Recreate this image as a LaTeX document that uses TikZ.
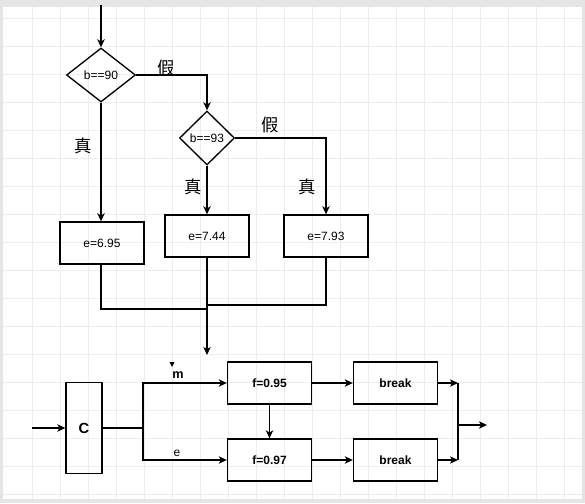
\documentclass[tikz,border=0pt]{standalone}
\usepackage{fontspec}
\setmainfont{Liberation Sans}
\newfontfamily\cjk{Noto Sans CJK SC}
\usetikzlibrary{shapes.geometric, arrows.meta, positioning}

\begin{document}
\begin{tikzpicture}[x=0.75pt, y=-0.75pt, line width=1pt,
	font=\fontsize{9}{11}\selectfont,
	box/.style = {draw, rectangle, minimum width=63pt, minimum height=31.5pt, inner sep=0pt},
	cond/.style = {draw, diamond, minimum height=40.5pt, inner sep=0pt},
	lab/.style = {font=\fontsize{13}{15}\selectfont\cjk},
	arr/.style = {-{Stealth[length=6pt, width=5.5pt, inset=1.6pt]}}]
	\useasboundingbox (0,0) rectangle (585,503);
	% canvas and grid
	\fill[black!10] (0,0) rectangle (585,503);
	\fill[white] (3,7) rectangle (582,499);
	\foreach \gx in {32,60,...,564} \draw[black!7, line width=0.5pt] (\gx,7) -- (\gx,499);
	\foreach \gy in {18,46,...,494} \draw[black!7, line width=0.5pt] (3,\gy) -- (582,\gy);

	% upper part
	\coordinate (top) at (101,5);
	\node[cond, minimum width=51.75pt] (d1) at (101,75) {b==90};
	\node[cond, minimum width=41.25pt] (d2) at (207,138) {b==93};
	\node[box] (e1) at (102,243) {e=6.95};
	\node[box] (e2) at (207,236) {e=7.44};
	\node[box] (e3) at (326,236) {e=7.93};
	\node[lab] (f1lab) at (166,68) {假};
	\node[lab] (f2lab) at (270,125) {假};
	\node[lab] (t1lab) at (83,146) {真};
	\node[lab] (t2lab) at (193,187) {真};
	\node[lab] (t3lab) at (307,187) {真};
	\coordinate (jn1) at (207,309);
	\coordinate (jn2) at (207,305);
	\coordinate (down) at (207,355);
	\draw[arr] (top) -- (d1.north);
	\draw[arr] (d1.east) -| (d2.north);
	\draw[arr] (d2.east) -| (e3.north);
	\draw[arr] (d1.south) -- (d1.south |- e1.north);
	\draw[arr] (d2.south) -- (e2.north);
	\draw (d1.south |- e1.south) |- (jn1);
	\draw (e3.south) |- (jn2);
	\draw[arr] (e2.south) -- (down);

	% lower part
	\node[box, minimum width=27pt, minimum height=68.25pt, font=\fontsize{11}{13}\selectfont\bfseries] (c) at (84,428) {C};
	\node[box, font=\fontsize{9}{11}\selectfont\bfseries] (f95) at (269.5,383) {f=0.95};
	\node[box, font=\fontsize{9}{11}\selectfont\bfseries] (f97) at (269.5,460) {f=0.97};
	\node[box, font=\fontsize{9}{11}\selectfont\bfseries] (b1) at (395.5,383) {break};
	\node[box, font=\fontsize{9}{11}\selectfont\bfseries] (b2) at (395.5,460) {break};
	\node[font=\fontsize{9.5}{11}\selectfont\bfseries] (mlab) at (178,375) {m};
	\node (elab) at (177,453) {e};
	\fill (169.5,362) -- (174.5,362) -- (172,367) -- cycle;
	\coordinate (in) at (32,428);
	\coordinate (sp) at (143,428);
	\coordinate (k1) at (458,383);
	\coordinate (k2) at (458,460);
	\coordinate (ko) at (458,425);
	\coordinate (out) at (487,425);
	\draw[arr] (in) -- (c);
	\draw (c) -- (sp);
	\draw[arr] (sp) |- (f95.west);
	\draw[arr] (sp) |- (f97.west);
	\draw[arr] (f95) -- (f97);
	\draw[arr] (f95) -- (b1);
	\draw[arr] (f97) -- (b2);
	\draw[arr] (b1) -- (k1);
	\draw[arr] (b2) -- (k2);
	\draw (k1) -- (k2);
	\draw[arr] (ko) -- (out);
\end{tikzpicture}
\end{document}
